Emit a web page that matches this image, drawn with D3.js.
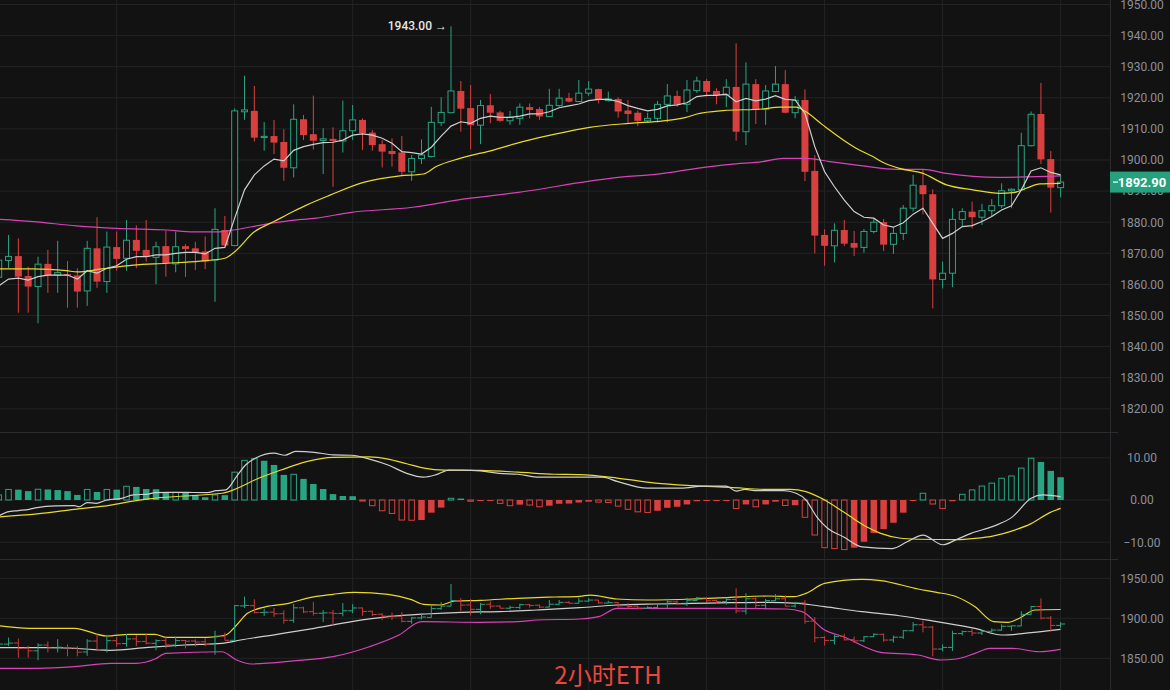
<!DOCTYPE html>
<html><head><meta charset="utf-8">
<script src="https://cdn.jsdelivr.net/npm/d3@7/dist/d3.min.js"></script>
<style>html,body{margin:0;padding:0;background:#121212;overflow:hidden}svg{display:block}</style>
</head><body><svg id="c" width="1170" height="690"></svg>
<script>
// ---------- DATA ----------
const open  = [1862.3,1867.7,1869.1,1862.7,1859.3,1866.6,1863.0,1863.3,1862.9,1857.9,1871.6,1860.9,1872.0,1868.4,1874.3,1871.1,1868.7,1872.3,1866.6,1872.3,1871.6,1870.6,1867.8,1877.5,1872.5,1915.5,1915.8,1907.3,1907.7,1905.8,1897.5,1913.1,1908.3,1906.3,1906.8,1906.1,1909.4,1912.9,1908.8,1905.1,1902.9,1902.4,1896.2,1900.5,1901.1,1912.0,1915.2,1922.2,1916.7,1911.2,1917.6,1915.3,1912.6,1913.4,1917.0,1916.4,1914.0,1917.5,1919.9,1918.8,1921.5,1922.8,1919.1,1919.6,1915.9,1915.2,1912.6,1913.4,1917.9,1920.6,1917.9,1922.3,1925.4,1922.2,1920.9,1923.5,1909.1,1924.4,1916.3,1922.0,1924.4,1915.2,1919.3,1896.5,1875.9,1872.4,1877.5,1873.3,1871.9,1877.0,1880.0,1872.9,1876.4,1884.5,1891.9,1889.0,1861.6,1863.6,1880.9,1883.4,1881.6,1883.7,1885.3,1890.1,1890.4,1904.6,1914.8,1900.3,1891.1];
const high  = [1869.5,1875.9,1874.8,1865.7,1868.9,1871.1,1874.0,1867.5,1865.2,1874.0,1881.6,1877.0,1877.0,1880.7,1879.0,1880.7,1873.7,1877.3,1877.0,1872.9,1873.7,1875.4,1884.5,1882.0,1916.6,1927.1,1923.8,1912.2,1912.9,1909.9,1917.9,1914.5,1920.7,1910.2,1910.5,1919.1,1917.7,1913.4,1909.6,1906.4,1907.0,1907.7,1901.6,1906.6,1917.1,1920.2,1943.0,1925.4,1924.1,1919.3,1921.2,1915.8,1915.8,1918.2,1918.2,1917.1,1922.9,1922.9,1921.6,1925.7,1925.4,1922.9,1922.0,1920.2,1919.3,1915.9,1915.2,1919.0,1924.4,1922.3,1925.7,1926.8,1926.0,1923.1,1926.0,1937.5,1931.4,1926.0,1924.1,1930.2,1928.9,1920.6,1922.7,1901.6,1877.7,1879.6,1880.7,1877.2,1877.8,1881.3,1881.0,1878.4,1885.5,1895.2,1897.0,1890.6,1867.3,1884.5,1884.5,1886.6,1885.9,1887.4,1892.5,1890.9,1908.8,1915.6,1924.8,1902.9,1895.2];
const low   = [1859.0,1865.3,1850.9,1850.9,1847.5,1857.3,1857.3,1852.5,1852.5,1853.1,1858.9,1857.3,1864.4,1864.4,1865.2,1867.3,1860.1,1862.5,1863.9,1862.4,1864.6,1864.9,1854.4,1872.3,1872.3,1912.9,1905.9,1903.0,1901.9,1893.3,1894.4,1906.4,1903.4,1895.5,1891.4,1902.4,1906.4,1903.2,1903.0,1897.6,1897.9,1894.9,1893.3,1898.7,1900.8,1910.9,1915.0,1909.1,1903.4,1905.1,1911.8,1912.3,1911.3,1911.3,1913.4,1912.9,1913.8,1917.1,1918.5,1918.6,1920.6,1918.2,1918.8,1913.6,1911.8,1910.9,1912.1,1912.1,1912.1,1917.1,1915.4,1921.6,1920.4,1917.9,1917.0,1906.2,1904.8,1911.6,1911.3,1921.8,1915.0,1913.4,1893.2,1870.0,1866.0,1867.1,1872.3,1869.1,1870.2,1876.4,1870.7,1869.8,1874.3,1883.4,1882.5,1852.3,1858.7,1859.1,1878.6,1878.0,1879.1,1882.0,1884.5,1884.5,1890.2,1904.4,1898.7,1883.1,1888.0];
const close = [1867.8,1869.0,1862.5,1859.3,1866.5,1863.0,1863.8,1862.9,1857.7,1871.6,1860.9,1872.0,1868.2,1874.2,1870.8,1868.9,1872.1,1866.8,1872.1,1871.4,1870.3,1867.4,1877.7,1872.5,1915.8,1916.1,1907.2,1907.6,1905.6,1897.5,1913.1,1908.0,1906.2,1906.8,1906.1,1909.4,1912.9,1908.6,1904.8,1902.7,1901.9,1896.2,1900.5,1901.6,1912.1,1915.3,1922.2,1916.5,1911.2,1917.5,1915.2,1912.6,1913.7,1917.0,1916.1,1914.0,1917.6,1919.9,1918.8,1921.5,1922.8,1919.3,1919.6,1915.6,1914.8,1912.6,1913.4,1917.9,1920.6,1917.9,1922.5,1925.4,1921.9,1920.9,1923.4,1909.1,1924.4,1916.1,1922.2,1924.4,1915.2,1919.2,1896.2,1875.7,1872.4,1877.4,1873.1,1871.8,1877.0,1880.0,1872.8,1876.4,1884.5,1891.9,1889.0,1861.6,1863.6,1880.9,1883.4,1881.6,1883.7,1885.3,1890.1,1890.6,1904.6,1914.7,1900.2,1891.1,1892.9];

// main-chart moving averages
const maWhite = [1859.5,1861.7,1862.0,1861.4,1862.5,1863.0,1863.0,1863.0,1861.7,1864.4,1863.6,1865.2,1866.0,1868.1,1868.9,1868.9,1869.5,1869.5,1870.0,1870.3,1870.3,1869.8,1871.6,1871.9,1881.3,1890.4,1895.2,1898.1,1900.3,1899.7,1903.1,1904.3,1905.0,1905.6,1905.7,1906.4,1908.0,1908.4,1908.0,1907.0,1905.4,1902.7,1902.4,1901.9,1904.1,1907.7,1910.9,1912.3,1911.8,1913.4,1914.1,1913.7,1913.7,1914.1,1914.8,1914.8,1915.5,1916.8,1917.4,1918.0,1919.1,1919.5,1919.5,1918.8,1917.5,1916.6,1915.8,1916.3,1917.4,1917.7,1918.4,1920.4,1920.8,1920.8,1921.2,1918.7,1919.8,1919.0,1919.6,1920.7,1919.5,1919.3,1915.0,1904.3,1896.2,1891.4,1887.1,1883.4,1881.6,1881.3,1879.1,1878.4,1879.8,1882.6,1884.5,1879.6,1874.8,1876.4,1878.6,1878.9,1880.2,1881.8,1883.9,1885.3,1890.4,1896.5,1897.5,1896.0,1895.2];
const maYellow = [[0,1865.0],[3.5,1865.0],[6.9,1864.4],[8,1864.0],[10.3,1864.9],[13.7,1866.2],[17.1,1866.8],[20.5,1867.5],[23,1868.4],[24,1870.5],[26,1876.9],[28,1880.2],[30,1883.5],[31.3,1885.5],[33.7,1888.7],[37.1,1892.8],[40.8,1894.9],[43.2,1895.5],[44.5,1897.9],[46.9,1900.5],[50.3,1903.2],[53.3,1905.9],[56.7,1908.4],[60.1,1910.5],[64.2,1911.8],[67.6,1912.6],[69.9,1913.7],[71,1914.8],[73.7,1915.9],[77.7,1916.4],[79.4,1917.0],[81.1,1917.0],[82.1,1915.5],[83.8,1911.3],[87.2,1903.8],[88.9,1901.1],[89.9,1899.3],[91.6,1897.3],[94,1895.7],[96.4,1892.0],[99.1,1890.4],[101.8,1889.3],[103.2,1889.5],[104.5,1890.9],[105.9,1892.3],[108,1892.5]];
const maMagenta = [[0,1880.9],[3.5,1880.2],[7.9,1878.8],[12,1878.0],[17.1,1877.5],[19.8,1876.9],[22.2,1876.9],[23.9,1877.5],[27.2,1879.4],[29.6,1880.5],[32.3,1881.3],[35.7,1883.1],[42.1,1884.8],[47.2,1887.4],[53.3,1889.8],[60.1,1893.2],[63.5,1894.6],[66.2,1895.2],[67.6,1895.7],[71,1897.3],[74.4,1898.6],[77.7,1899.5],[79.8,1900.5],[82.1,1900.5],[84.5,1899.5],[87.9,1898.1],[91.3,1897.0],[94,1897.0],[96.4,1895.7],[101.5,1894.4],[108,1894.9]];

// MACD
const macdHist = [1.2,2.5,2.45,2.1,2.55,2.5,2.35,2.1,1.2,2.5,1.9,2.5,2.45,3.25,3.1,2.6,2.55,1.75,1.8,1.75,1.2,0.65,1.2,1.15,6.6,9.4,9.8,9.3,8.3,5.95,6.1,5.0,3.8,2.6,1.4,0.95,0.9,-0.25,-1.35,-2.55,-3.2,-4.75,-4.8,-4.75,-3.0,-1.8,0.4,0.35,-0.3,-0.25,-0.2,-0.8,-1.35,-1.1,-1.2,-1.6,-1.35,-0.9,-0.85,-0.6,-0.4,-0.5,-0.6,-1.45,-2.2,-2.8,-2.95,-2.55,-1.85,-1.6,-1.05,-0.3,-0.25,-0.2,-0.15,-2.0,-1.05,-1.6,-1.05,-0.4,-1.3,-1.25,-4.1,-8.3,-11.3,-11.5,-11.75,-11.3,-9.9,-7.8,-6.9,-5.4,-3.0,-0.15,1.6,-0.95,-2.0,-0.3,1.35,2.4,3.3,4.0,5.15,5.7,7.55,9.9,9.0,6.9,5.4];
const macdDif = [[0,-3.8],[0.9,-2.8],[2,-2.5],[3.1,-2.2],[3.9,-1.8],[5.8,-1.4],[7.7,-1.35],[8.2,-1.6],[9,-0.6],[9.9,-0.8],[11,0],[12.5,0.4],[13.7,1.2],[15.2,1.4],[15.9,1.75],[17.4,1.8],[18.9,1.8],[21.2,1.75],[22.1,2.2],[23.1,2.4],[24.2,5.6],[25.1,8.3],[26.1,9.9],[28,11.1],[29.1,10.6],[30.2,11.5],[32.1,11.3],[34,10.7],[35.9,10.6],[37.7,9.7],[39.6,8.3],[41.5,6.3],[43.2,5.4],[44.5,6.0],[45.8,7.1],[47.1,7.1],[49,6.9],[50.9,6.3],[52.8,6.1],[55,5.4],[59.1,5.4],[61.4,5.4],[62.9,4.4],[66,2.8],[69.4,2.8],[71.7,3.3],[74,3.3],[75,2.1],[75.9,2.5],[77.1,2.2],[79.8,2.2],[81.1,1.6],[82.1,0],[83.2,-4.0],[84.3,-6.7],[85.9,-8.7],[87.8,-11.1],[90.9,-11.5],[92.4,-9.9],[94,-8.3],[96,-10.6],[97.4,-9.4],[98.9,-7.9],[101.2,-6.2],[103.1,-4.0],[105,0.4],[106.2,1.2],[108,0.8]];
const macdDea = [[0,-4.0],[3.9,-3.3],[7.7,-2.2],[11.4,-1.2],[13.3,-0.4],[15.2,0.25],[18.9,0.95],[22.7,1.6],[23.4,2.0],[26.5,5.2],[28.7,7.1],[31.3,9.1],[34,10.1],[37.7,10.2],[39.6,9.7],[41.5,8.6],[43.4,7.5],[45.3,7.1],[49,7.0],[52.8,6.6],[56.5,6.1],[59.1,6.0],[62.9,5.2],[66.8,4.0],[70.6,3.4],[74.4,3.0],[78.2,2.5],[80.5,2.5],[82.1,2.0],[84,0],[85.9,-2.8],[88.2,-6.3],[89.7,-7.9],[91.6,-9.0],[93.5,-9.3],[97.4,-9.4],[99.3,-9.1],[101.2,-8.5],[103.1,-7.3],[105,-5.6],[106.9,-3.0],[108,-2.0]];

// Bollinger bands
const bollUpper = [[0,1890.8],[3.1,1887.5],[7.7,1887.5],[11,1877.9],[13.3,1880],[15.9,1880],[17,1876.2],[21.2,1876.2],[23.1,1879.1],[24.2,1891.6],[25.3,1906.2],[27.2,1914.5],[29.5,1918.7],[31.3,1925],[34,1930],[36.2,1932.5],[39.6,1930],[41.9,1923.7],[43.2,1917.5],[44.9,1916.6],[46.4,1921.6],[49,1922.5],[52.8,1925],[56.5,1926.6],[59.1,1927.5],[60.2,1929],[62.9,1924.1],[66,1922.9],[70.6,1924.1],[74.4,1926.2],[78.2,1927.9],[80.9,1927.1],[82.1,1931.2],[84,1943.7],[87.8,1948.7],[89.7,1947.2],[93.5,1936.6],[95.4,1932.5],[97.4,1927],[99.3,1914.5],[101.2,1895.8],[102.7,1895],[103.9,1900.7],[105.4,1910.4],[108,1911]];
const bollMid = [[0,1863.3],[5.8,1863.3],[8.8,1861.6],[11.4,1860],[15.2,1863.7],[18.9,1866.6],[22.7,1868.7],[24.6,1872.9],[28.3,1880],[32.1,1887.5],[35.9,1895.8],[39.6,1902],[43.4,1905.4],[47.1,1907.5],[50.9,1908.3],[54.7,1910.4],[59.1,1913.3],[62.9,1916.6],[66.8,1917.9],[70.6,1918.7],[74.4,1919.5],[78.2,1920],[81.3,1918.7],[84,1914.5],[87.8,1908.3],[91.6,1903.2],[95.4,1895.8],[99.3,1887.5],[102,1879.1],[105,1882],[108,1886.2]];
const bollLower = [[0,1837.5],[3.9,1837.5],[7.7,1839.5],[11.4,1843.7],[14,1843.7],[15.9,1849.1],[17,1856.2],[22.7,1858.2],[24.2,1847.9],[25.7,1842.9],[30.2,1847],[34,1852],[37.7,1864.5],[40.7,1879.1],[43,1895.8],[49,1895],[52.8,1895.8],[54.7,1897.9],[59.1,1899.1],[61,1902],[62.9,1912.5],[66.8,1912.5],[74.4,1912.5],[80.1,1911.6],[81.7,1908.3],[84,1885.4],[85.9,1877],[89.7,1857.5],[93.5,1854.1],[95.8,1847.9],[97.4,1849.1],[99.3,1856.2],[100.8,1862.5],[103.1,1862.5],[105.8,1858.2],[108,1861.2]];

// tick labels
const mainTicks = [1820,1830,1840,1850,1860,1870,1880,1890,1900,1910,1920,1930,1940,1950];
const macdTicks = [-10,0,10];
const bollTicks = [1850,1900,1950];
const dayLines  = [12,24,36,48,60,72,84,96,108];
const maxLabel = "1943.00 →";
const lastLabel = "1892.90";
const title = "2小时ETH";

// ---------- STYLE ----------
const BG="#121212", GRID="#222325", GREEN="#29a482", RED="#d8403f",
      C_WHITE="#cfcfcf", C_YEL="#e9da2a", C_MAG="#d843b8", AXT="#8a909a";

const svg=d3.select("#c");
svg.append("rect").attr("width",1170).attr("height",690).attr("fill",BG);

const PR=1110; // right edge of plot
const n=close.length, idx=d3.range(n);
const x=d3.scaleLinear().domain([0,108]).range([-1.3,1060.6]);
const yMain=d3.scaleLinear().domain([1820,1950]).range([408.8,4.5]);
const yMacd=d3.scaleLinear().domain([-10,10]).range([542.2,457.8]);
const yBoll=d3.scaleLinear().domain([1850,1950]).range([658.3,578.3]);

const defs=svg.append("defs");
function clip(id,y0,y1){defs.append("clipPath").attr("id",id).append("rect").attr("x",0).attr("y",y0).attr("width",PR).attr("height",y1-y0);}
clip("cMain",0,432); clip("cMacd",432,559); clip("cBoll",559,690);

// grid
const grid=svg.append("g").attr("stroke",GRID).attr("stroke-width",1);
grid.selectAll(".v").data(dayLines).join("line").attr("x1",d=>x(d)).attr("x2",d=>x(d)).attr("y1",0).attr("y2",690);
grid.selectAll(".hm").data(mainTicks).join("line").attr("x1",0).attr("x2",PR).attr("y1",d=>yMain(d)).attr("y2",d=>yMain(d));
grid.selectAll(".hd").data(macdTicks).join("line").attr("x1",0).attr("x2",PR).attr("y1",d=>yMacd(d)).attr("y2",d=>yMacd(d));
grid.selectAll(".hb").data(bollTicks).join("line").attr("x1",0).attr("x2",PR).attr("y1",d=>yBoll(d)).attr("y2",d=>yBoll(d));
// separators & axis border
svg.append("g").attr("stroke","#2a2b2e").attr("stroke-width",1)
  .selectAll("line").data([432,559]).join("line").attr("x1",0).attr("x2",PR+8).attr("y1",d=>d+0.5).attr("y2",d=>d+0.5);
svg.append("line").attr("x1",PR+0.5).attr("x2",PR+0.5).attr("y1",0).attr("y2",690).attr("stroke","#2a2b2e");

// ---------- MAIN PANEL ----------
const gMain=svg.append("g").attr("clip-path","url(#cMain)");
const up=i=>close[i]>=open[i];
gMain.selectAll(".wick").data(idx).join("line")
  .attr("x1",i=>x(i)).attr("x2",i=>x(i)).attr("y1",i=>yMain(high[i])).attr("y2",i=>yMain(low[i]))
  .attr("stroke",i=>up(i)?GREEN:RED).attr("stroke-width",1);
gMain.selectAll(".body").data(idx).join("rect")
  .attr("x",i=>up(i)?x(i)-3:x(i)-3.5)
  .attr("width",i=>up(i)?6:7)
  .attr("y",i=>yMain(Math.max(open[i],close[i])))
  .attr("height",i=>Math.max(1.2,Math.abs(yMain(open[i])-yMain(close[i]))))
  .attr("fill",i=>up(i)?BG:RED)
  .attr("stroke",i=>up(i)?GREEN:"none").attr("stroke-width",1);

const lineMainIdx=d3.line().x((d,i)=>x(i)).y(d=>yMain(d));
const lineMainPts=d3.line().x(d=>x(d[0])).y(d=>yMain(d[1])).curve(d3.curveMonotoneX);
gMain.append("path").attr("d",lineMainPts(maMagenta)).attr("fill","none").attr("stroke",C_MAG).attr("stroke-width",1.2);
gMain.append("path").attr("d",lineMainPts(maYellow)).attr("fill","none").attr("stroke",C_YEL).attr("stroke-width",1.2);
gMain.append("path").attr("d",lineMainIdx(maWhite)).attr("fill","none").attr("stroke",C_WHITE).attr("stroke-width",1.2);

// max label
const iMax=d3.maxIndex(high);
svg.append("text").attr("x",x(iMax)-4).attr("y",yMain(high[iMax])).attr("dy","0.35em")
  .attr("text-anchor","end").attr("fill","#e6e6e6").attr("font-family","Roboto, sans-serif")
  .attr("font-size",12).attr("font-weight",500).text(maxLabel);

// ---------- MACD PANEL ----------
const gMacd=svg.append("g").attr("clip-path","url(#cMacd)");
const hollow=i=>{ if(i===0) return true; const v=macdHist[i],p=macdHist[i-1]; return v>=0? v>p : v<p; };
gMacd.selectAll(".hb").data(idx).join("rect")
  .attr("x",i=>hollow(i)?x(i)-2.75:x(i)-3.25)
  .attr("width",i=>hollow(i)?5.5:6.5)
  .attr("y",i=>Math.min(yMacd(0),yMacd(macdHist[i])))
  .attr("height",i=>Math.max(1,Math.abs(yMacd(macdHist[i])-yMacd(0))))
  .attr("fill",i=>hollow(i)?"none":(macdHist[i]>=0?GREEN:RED))
  .attr("stroke",i=>hollow(i)?(macdHist[i]>=0?GREEN:RED):"none").attr("stroke-width",1);
const lineMacd=d3.line().x(d=>x(d[0])).y(d=>yMacd(d[1])).curve(d3.curveMonotoneX);
gMacd.append("path").attr("d",lineMacd(macdDea)).attr("fill","none").attr("stroke",C_YEL).attr("stroke-width",1.2);
gMacd.append("path").attr("d",lineMacd(macdDif)).attr("fill","none").attr("stroke",C_WHITE).attr("stroke-width",1.2);

// ---------- BOLL PANEL ----------
const gBoll=svg.append("g").attr("clip-path","url(#cBoll)");
const lineBoll=d3.line().x(d=>x(d[0])).y(d=>yBoll(d[1])).curve(d3.curveMonotoneX);
gBoll.append("path").attr("d",lineBoll(bollLower)).attr("fill","none").attr("stroke",C_MAG).attr("stroke-width",1.2);
gBoll.append("path").attr("d",lineBoll(bollMid)).attr("fill","none").attr("stroke",C_WHITE).attr("stroke-width",1.2);
gBoll.append("path").attr("d",lineBoll(bollUpper)).attr("fill","none").attr("stroke",C_YEL).attr("stroke-width",1.2);
const ohlc=gBoll.selectAll(".bar").data(idx).join("g").attr("stroke",i=>up(i)?GREEN:"#c83c3c").attr("stroke-width",1);
ohlc.append("line").attr("x1",i=>x(i)).attr("x2",i=>x(i)).attr("y1",i=>yBoll(high[i])).attr("y2",i=>yBoll(low[i]));
ohlc.append("line").attr("x1",i=>x(i)-4.5).attr("x2",i=>x(i)).attr("y1",i=>yBoll(open[i])).attr("y2",i=>yBoll(open[i]));
ohlc.append("line").attr("x1",i=>x(i)).attr("x2",i=>x(i)+4.5).attr("y1",i=>yBoll(close[i])).attr("y2",i=>yBoll(close[i]));

// ---------- AXES ----------
function axis(scale,ticks){
  const g=svg.append("g").attr("transform",`translate(${PR},0)`)
    .call(d3.axisRight(scale).tickValues(ticks).tickSize(0).tickPadding(32).tickFormat(d3.format(".2f")));
  g.select(".domain").remove();
  g.selectAll("text").attr("text-anchor","middle").attr("fill",AXT)
    .attr("font-family","Roboto, sans-serif").attr("font-size",12);
}
axis(yMain,mainTicks); axis(yMacd,macdTicks); axis(yBoll,bollTicks);

// last price tag
const yl=yMain(close[n-1]);
svg.append("rect").attr("x",PR).attr("y",yl-10.5).attr("width",60).attr("height",21).attr("fill","#26a17d");
svg.append("line").attr("x1",PR+3).attr("x2",PR+8).attr("y1",yl).attr("y2",yl).attr("stroke","#fff").attr("stroke-width",1.2);
svg.append("text").attr("x",PR+32).attr("y",yl).attr("dy","0.36em").attr("text-anchor","middle")
  .attr("fill","#ffffff").attr("font-family","Roboto, sans-serif").attr("font-size",13).attr("font-weight",700).text(lastLabel);

// title
svg.append("text").attr("x",608).attr("y",684).attr("text-anchor","middle")
  .attr("fill","#e8473e").attr("font-family","'Noto Sans CJK SC', 'Noto Sans', sans-serif").attr("font-size",24).text(title);
</script>
</body></html>
